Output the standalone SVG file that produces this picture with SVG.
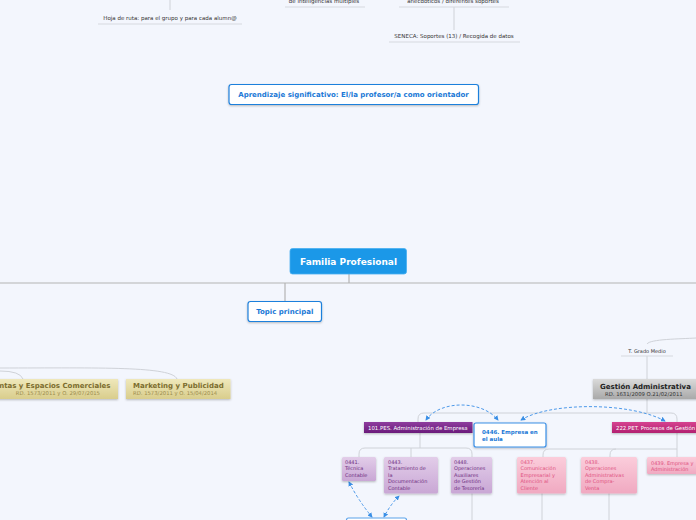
<svg xmlns="http://www.w3.org/2000/svg" width="696" height="520" viewBox="0 0 696 520">
<defs>
<style>
text{font-family:"DejaVu Sans","Liberation Sans",sans-serif}
.ln{fill:none;stroke:#b4b4b4;stroke-width:1.2}
.lt{fill:none;stroke:#cfd2d8;stroke-width:1}
.ul{fill:none;stroke:#d6d9df;stroke-width:1}
.da{fill:none;stroke:#3a8fe6;stroke-width:0.9;stroke-dasharray:3 2;marker-start:url(#ah);marker-end:url(#ah)}
.sm{font-size:5.5px;fill:#333}
.bb{fill:#fff;stroke:#1f80dc;stroke-width:1.2}
.bt{font-weight:bold;fill:#1a78d6}
.pc{font-size:5px;fill:#6d2d7e}
.kc{font-size:5px;fill:#e0507e}
</style>
<marker id="ah" viewBox="0 0 6 6" refX="5" refY="3" markerWidth="5" markerHeight="5" orient="auto-start-reverse" markerUnits="userSpaceOnUse">
<path d="M0 0 L6 3 L0 6 z" fill="#3a8fe6"/>
</marker>
<filter id="sh" x="-10%" y="-20%" width="120%" height="150%">
<feDropShadow dx="0" dy="1" stdDeviation="0.8" flood-color="#000" flood-opacity="0.25"/>
</filter>
<linearGradient id="gy" x1="0" y1="0" x2="0" y2="1"><stop offset="0" stop-color="#efe8bb"/><stop offset="1" stop-color="#d9cd8c"/></linearGradient>
<linearGradient id="gg" x1="0" y1="0" x2="0" y2="1"><stop offset="0" stop-color="#dadada"/><stop offset="1" stop-color="#a9a9a9"/></linearGradient>
<linearGradient id="gp" x1="0" y1="0" x2="0" y2="1"><stop offset="0" stop-color="#8e3c9e"/><stop offset="1" stop-color="#6a1b7b"/></linearGradient>
<linearGradient id="gm" x1="0" y1="0" x2="0" y2="1"><stop offset="0" stop-color="#d64390"/><stop offset="1" stop-color="#b22070"/></linearGradient>
<linearGradient id="glp" x1="0" y1="0" x2="0" y2="1"><stop offset="0" stop-color="#e2cde9"/><stop offset="1" stop-color="#c9a7d5"/></linearGradient>
<linearGradient id="gpk" x1="0" y1="0" x2="0" y2="1"><stop offset="0" stop-color="#fbcddb"/><stop offset="1" stop-color="#f0a9c1"/></linearGradient>
</defs>
<rect width="696" height="520" fill="#f3f6fd"/>

<g id="connectors">
<path class="lt" d="M170 0 V10"/>
<path class="lt" d="M454 7 V30"/>
<path class="ln" d="M0 283 H696"/>
<path class="ln" d="M349 274 V283"/>
<path class="ln" d="M285 283 V301"/>
<path class="lt" d="M0 371 Q20 371 23 379"/>
<path class="lt" d="M0 368 C100 368 172 366 177 379"/>
<path class="lt" d="M647 344 C650 339 680 339 696 338"/>
<path class="lt" d="M647 356 V379"/>
<path class="lt" d="M647 399 V413"/>
<path class="lt" d="M418 422 V419 Q418 413 424 413 H671 Q677 413 677 419 V422"/>
<path class="lt" d="M420 433 V448"/>
<path class="lt" d="M359 457 V454 Q359 448 365 448 H466 Q472 448 472 454 V457"/>
<path class="lt" d="M411 448 V457"/>
<path class="lt" d="M472 493 V520"/>
<path class="lt" d="M677 433 V457"/>
<path class="lt" d="M543 457 V455 Q543 449 549 449 H677"/>
<path class="lt" d="M610 457 V455 Q610 449 616 449"/>
<path class="lt" d="M542 493 V520"/>
<path class="lt" d="M609 493 V520"/>
<path class="da" d="M426 420 C440 400 482 400 498 420"/>
<path class="da" d="M521 420 C550 402 630 402 665 421"/>
<path class="da" d="M349 482 Q358 500 372 517"/>
<path class="da" d="M399 496 Q390 505 384 517"/>
</g>

<g id="n-hoja">
<text class="sm" x="170" y="19.5" text-anchor="middle">Hoja de ruta: para el grupo y para cada alumn@</text>
<path class="ul" d="M98 24 H242"/>
</g>
<g id="n-intel">
<text class="sm" x="324" y="3" text-anchor="middle">de inteligencias múltiples</text>
<path class="ul" d="M285 7 H365"/>
</g>
<g id="n-anec">
<text class="sm" x="453" y="3" text-anchor="middle">anecdóticos / diferentes soportes</text>
<path class="ul" d="M399 7 H509"/>
</g>
<g id="n-seneca">
<text class="sm" x="454" y="37.5" text-anchor="middle">SENECA: Soportes (13) / Recogida de datos</text>
<path class="ul" d="M389 42 H520"/>
</g>
<g id="n-aprend">
<rect class="bb" x="229" y="84.5" width="249.5" height="20" rx="2.5" filter="url(#sh)"/>
<text class="bt" x="353.5" y="97" font-size="7" text-anchor="middle">Aprendizaje significativo: El/la profesor/a como orientador</text>
</g>
<g id="n-familia">
<rect x="290" y="248.5" width="116.5" height="25.5" rx="2.5" fill="#1b98e8" stroke="#48aef0" stroke-width="0.8"/>
<text x="348.5" y="265" font-size="9" font-weight="bold" fill="#fff" text-anchor="middle">Familia Profesional</text>
</g>
<g id="n-topic">
<rect class="bb" x="248" y="301.5" width="73.5" height="20" rx="2.5" filter="url(#sh)"/>
<text class="bt" x="284.8" y="314" font-size="7" text-anchor="middle">Topic principal</text>
</g>
<g id="n-ventas">
<rect x="-80" y="379" width="198" height="20" fill="url(#gy)" filter="url(#sh)"/>
<text x="110.5" y="387.5" font-size="7" font-weight="bold" fill="#7c6d2e" text-anchor="end">Gestión de Ventas y Espacios Comerciales</text>
<text x="100" y="394.5" font-size="5.3" fill="#9c8c4c" text-anchor="end">RD. 1573/2011 y O. 29/07/2015</text>
</g>
<g id="n-marketing">
<rect x="126" y="379" width="104.5" height="20" fill="url(#gy)" filter="url(#sh)"/>
<text x="133" y="387.5" font-size="7" font-weight="bold" fill="#7c6d2e">Marketing y Publicidad</text>
<text x="133" y="394.5" font-size="5.3" fill="#9c8c4c">RD. 1573/2011 y O. 15/04/2014</text>
</g>
<g id="n-grado">
<text x="647" y="352.5" font-size="5" fill="#333" text-anchor="middle">T. Grado Medio</text>
<path class="ul" d="M621 356 H673"/>
</g>
<g id="n-gestion">
<rect x="593" y="379" width="110" height="20" fill="url(#gg)" filter="url(#sh)"/>
<text x="600" y="388.5" font-size="7" font-weight="bold" fill="#222">Gestión Administrativa</text>
<text x="605" y="395.5" font-size="5.3" fill="#333">RD. 1631/2009 O.21/02/2011</text>
</g>
<g id="n-101">
<rect x="364" y="422" width="108.5" height="11" fill="url(#gp)" filter="url(#sh)"/>
<text x="368" y="430" font-size="5.4" fill="#fff">101.PES. Administración de Empresa</text>
</g>
<g id="n-222">
<rect x="612" y="422" width="95" height="11" fill="url(#gm)" filter="url(#sh)"/>
<text x="616" y="430" font-size="5.4" fill="#fff">222.PET. Procesos de Gestión Administrativa</text>
</g>
<g id="n-0446">
<rect x="474" y="423" width="72" height="24" rx="2" fill="#fff" stroke="#3a8fe6" stroke-width="1.2" filter="url(#sh)"/>
<text x="482" y="434" font-size="5.5" font-weight="bold" fill="#1a78d6">0446. Empresa en</text>
<text x="482" y="441" font-size="5.5" font-weight="bold" fill="#1a78d6">el aula</text>
</g>
<g id="n-0441">
<rect x="342" y="457" width="34" height="24" rx="1.5" fill="url(#glp)" filter="url(#sh)"/>
<text class="pc" x="345" y="463.5">0441.</text>
<text class="pc" x="345" y="470">Técnica</text>
<text class="pc" x="345" y="476.5">Contable</text>
</g>
<g id="n-0443">
<rect x="384" y="457" width="54" height="36.5" rx="1.5" fill="url(#glp)" filter="url(#sh)"/>
<text class="pc" x="388" y="463.5">0443.</text>
<text class="pc" x="388" y="470">Tratamiento de</text>
<text class="pc" x="388" y="476.5">la</text>
<text class="pc" x="388" y="483">Documentación</text>
<text class="pc" x="388" y="489.5">Contable</text>
</g>
<g id="n-0448">
<rect x="451" y="457" width="41" height="36.5" rx="1.5" fill="url(#glp)" filter="url(#sh)"/>
<text class="pc" x="454" y="463.5">0448.</text>
<text class="pc" x="454" y="470">Operaciones</text>
<text class="pc" x="454" y="476.5">Auxiliares</text>
<text class="pc" x="454" y="483">de Gestión</text>
<text class="pc" x="454" y="489.5">de Tesorería</text>
</g>
<g id="n-0437">
<rect x="517" y="457" width="49" height="36.5" rx="1.5" fill="url(#gpk)" filter="url(#sh)"/>
<text class="kc" x="520.5" y="463.5">0437.</text>
<text class="kc" x="520.5" y="470">Comunicación</text>
<text class="kc" x="520.5" y="476.5">Empresarial y</text>
<text class="kc" x="520.5" y="483">Atención al</text>
<text class="kc" x="520.5" y="489.5">Cliente</text>
</g>
<g id="n-0438">
<rect x="581" y="457" width="56" height="36.5" rx="1.5" fill="url(#gpk)" filter="url(#sh)"/>
<text class="kc" x="585" y="463.5">0438.</text>
<text class="kc" x="585" y="470">Operaciones</text>
<text class="kc" x="585" y="476.5">Administrativas</text>
<text class="kc" x="585" y="483">de Compra-</text>
<text class="kc" x="585" y="489.5">Venta</text>
</g>
<g id="n-0439">
<rect x="647" y="457" width="60" height="17" rx="1.5" fill="url(#gpk)" filter="url(#sh)"/>
<text class="kc" x="651" y="464.5">0439. Empresa y</text>
<text class="kc" x="651" y="471">Administración</text>
</g>
<g id="n-bottom">
<rect x="346.5" y="518" width="60" height="10" rx="2" fill="#fff" stroke="#5aa2ea" stroke-width="1.2"/>
</g>
</svg>
